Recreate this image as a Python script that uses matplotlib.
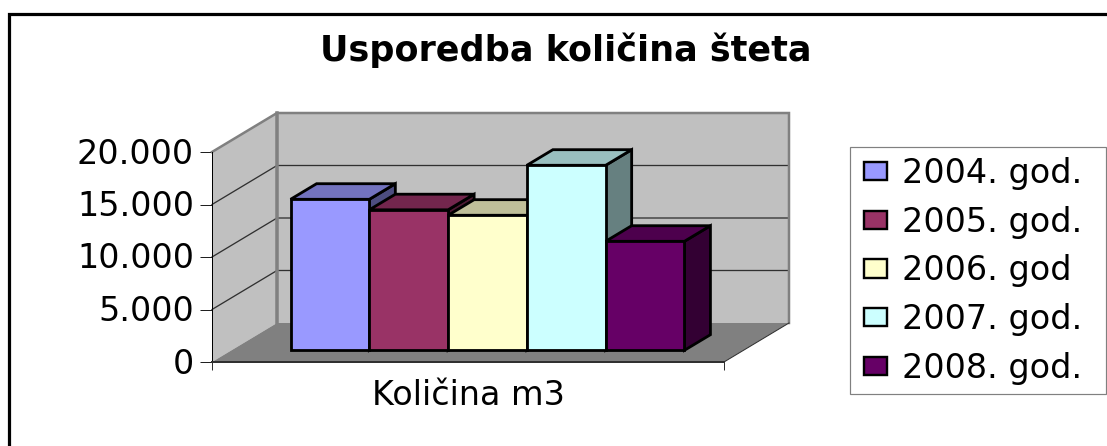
import matplotlib
matplotlib.use("Agg")
import matplotlib.pyplot as plt
from matplotlib.patches import Polygon, Patch, Rectangle
from matplotlib.colors import to_rgb
from matplotlib.transforms import ScaledTranslation

title = "Usporedba količina šteta"
category = "Količina m3"
series_names = ["2004. god.", "2005. god.", "2006. god", "2007. god.", "2008. god."]
values = [14380, 13380, 12860, 17620, 10380]
colors = ["#9999FF", "#993366", "#FFFFCC", "#CCFFFF", "#660066"]
yticks = [0, 5000, 10000, 15000, 20000]
ytick_labels = ["0", "5.000", "10.000", "15.000", "20.000"]

W, H = 1107, 446
plt.rcParams["font.family"] = ["DejaVu Sans"]
fig = plt.figure(figsize=(W / 100, H / 100), dpi=100, facecolor="white")
px = 72 / 100  # points per pixel

# frame (runs off the right and bottom of the picture)
fig.add_artist(Rectangle((9 / W, -0.1), 1.2, 1.1 - 14.5 / H, transform=fig.transFigure,
                         fill=False, ec="black", lw=3.2 * px))

# front plane of the 3-D box: x 212..724 px, y 362..152 px
ax = fig.add_axes([212 / W, 1 - 362 / H, 512 / W, 210 / H])
gap = 1.5
n = len(values)
ymax = yticks[-1]
ax.set_xlim(0, n + gap)
ax.set_ylim(0, ymax)
ax.patch.set_visible(False)

unit_x = 512 / (n + gap)
unit_y = 210 / ymax
DX = 65 / unit_x      # full depth in x units
DY = 39 / unit_y      # full depth in value units


def P(x, v, d):
    return (x + d * DX, v + d * DY)


def poly(points, fc, ec="none", lw=0, z=1, join="miter"):
    ax.add_patch(Polygon(points, closed=True, fc=fc, ec=ec, lw=lw, zorder=z,
                         clip_on=False, joinstyle=join))


wall = "#C0C0C0"
edge = "#808080"
X1 = n + gap
# back wall, side wall, floor
poly([P(0, 0, 1), P(X1, 0, 1), P(X1, ymax, 1), P(0, ymax, 1)], wall, z=1)
poly([P(0, 0, 0), P(0, 0, 1), P(0, ymax, 1), P(0, ymax, 0)], wall, z=1)
poly([P(0, 0, 0), P(X1, 0, 0), P(X1, 0, 1), P(0, 0, 1)], edge, z=1)

# gridlines
for t in yticks[1:-1]:
    xs, ys = zip(P(0, t, 0), P(0, t, 1), P(X1, t, 1))
    ax.plot(xs, ys, color="#303030", lw=1.3 * px, zorder=2, clip_on=False)

# wall edges
xs, ys = zip(P(0, ymax, 0), P(0, ymax, 1), P(X1, ymax, 1), P(X1, 0, 1))
ax.plot(xs, ys, color=edge, lw=2.5 * px, zorder=2, clip_on=False, solid_joinstyle="miter")
xs, ys = zip(P(0, ymax, 1), P(0, 0, 1))
ax.plot(xs, ys, color=edge, lw=3.5 * px, zorder=2, clip_on=False)
xs, ys = zip(P(X1, 0, 0), P(X1, 0, 1))
ax.plot(xs, ys, color="#303030", lw=1.0 * px, zorder=2, clip_on=False)


def shade(c, f):
    return tuple(ch * f for ch in to_rgb(c))


# bars, drawn left to right so each covers the side of the previous one
d0, d1 = 0.3, 0.7
blw = 2.8 * px
for i, (v, c) in enumerate(zip(values, colors)):
    x0 = gap / 2 + i
    x1 = x0 + 1
    z = 3 + i
    poly([P(x1, 0, d0), P(x1, 0, d1), P(x1, v, d1), P(x1, v, d0)], shade(c, 0.5), "black", blw, z)
    poly([P(x0, v, d0), P(x1, v, d0), P(x1, v, d1), P(x0, v, d1)], shade(c, 0.75), "black", blw, z)
    poly([P(x0, 0, d0), P(x1, 0, d0), P(x1, v, d0), P(x0, v, d0)], c, "black", blw, z)

# axes
for s in ("top", "right"):
    ax.spines[s].set_visible(False)
ax.spines["left"].set_linewidth(1.0 * px)
ax.spines["left"].set_color("black")
ax.spines["bottom"].set_linewidth(2.0 * px)
ax.spines["bottom"].set_color("#303030")
ax.spines["left"].set_zorder(2.5)
ax.spines["bottom"].set_zorder(2.5)

FS = 24
ax.set_yticks(yticks)
ax.set_yticklabels(ytick_labels, fontsize=FS)
ax.tick_params(axis="y", length=12 * px, width=1.0 * px, pad=6 * px, color="#202020")
for lab in ax.get_yticklabels():
    lab.set_transform(lab.get_transform() + ScaledTranslation(0, 1.5 / 100, fig.dpi_scale_trans))
ax.set_xticks([0, X1])
ax.set_xticklabels(["", ""])
ax.tick_params(axis="x", which="major", length=8 * px, width=1.0 * px, color="#303030")
ax.set_xticks([X1 / 2], minor=True)
ax.set_xticklabels([category], minor=True, fontsize=FS)
ax.tick_params(axis="x", which="minor", length=0, pad=17 * px)

fig.text(565.5 / W, 1 - 50 / H, title, fontsize=25.2, fontweight="bold", ha="center", va="center")

# legend box
fig.add_artist(Rectangle((850 / W, 1 - 394 / H), 256 / W, 247 / H, transform=fig.transFigure,
                         fc="white", ec=edge, lw=1.2 * px, zorder=1))
handles = [Patch(fc=c, ec="black", lw=2.4 * px) for c in colors]
leg = fig.legend(handles, series_names, loc="upper left",
                 bbox_to_anchor=(850 / W, 1 - 143 / H), bbox_transform=fig.transFigure,
                 fontsize=FS, frameon=False, borderaxespad=0, borderpad=0.42, labelspacing=0.47,
                 handlelength=0.68, handleheight=0.48, handletextpad=0.46)
leg.set_zorder(5)

fig.savefig("out.png", dpi=100, facecolor="white")
